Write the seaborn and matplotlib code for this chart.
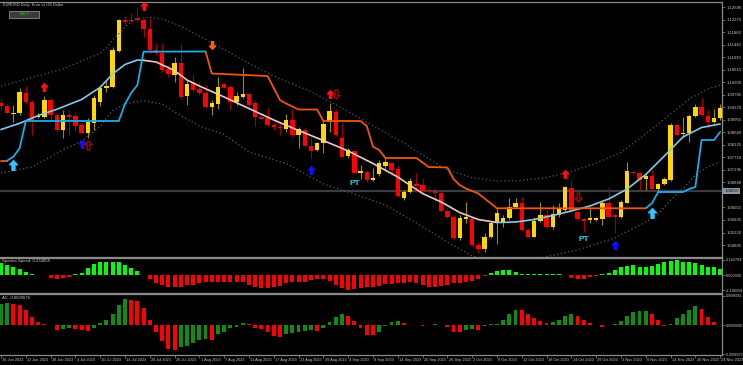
import numpy as np
import matplotlib
matplotlib.use('Agg')
import matplotlib.pyplot as plt
from matplotlib.path import Path
from matplotlib.patches import Rectangle
from matplotlib.transforms import blended_transform_factory
import seaborn as sns

sns.set_style('dark', {'axes.facecolor': 'black', 'figure.facecolor': 'black'})
plt.rcParams['font.family'] = ['Liberation Sans', 'DejaVu Sans']

# EURUSD daily candles, 16 Jun 2023 .. 24 Nov 2023 (bar index 0..116)
opens = [1.09515, 1.09416, 1.09150, 1.09173, 1.09837, 1.09559, 1.09050, 1.09061, 1.09615, 1.09117,
         1.08620, 1.09117, 1.09084, 1.08786, 1.08530, 1.08862, 1.09559, 1.10003, 1.10056, 1.11251,
         1.12269, 1.12269, 1.12325, 1.12269, 1.11960, 1.11274, 1.11184, 1.10633, 1.10444, 1.10852,
         1.09748, 1.10222, 1.09970, 1.09857, 1.09373, 1.09482, 1.10135, 1.10036, 1.09559, 1.09725,
         1.09814, 1.09505, 1.09041, 1.09018, 1.08786, 1.08730, 1.08643, 1.08952, 1.08454, 1.08620,
         1.08089, 1.07957, 1.08199, 1.08896, 1.09227, 1.08364, 1.07758, 1.07933, 1.07203, 1.07237,
         1.06961, 1.07160, 1.07436, 1.07515, 1.07316, 1.06354, 1.06573, 1.06818, 1.06795, 1.06630,
         1.06596, 1.06520, 1.05943, 1.05744, 1.05028, 1.05658, 1.05658, 1.04805, 1.04663, 1.05061,
         1.05525, 1.05525, 1.05691, 1.06056, 1.06208, 1.05303, 1.05080, 1.05612, 1.05800, 1.05392,
         1.05800, 1.05966, 1.06686, 1.05910, 1.05668, 1.05635, 1.05645, 1.05658, 1.06189, 1.05790,
         1.05724, 1.06208, 1.07237, 1.07183, 1.06984, 1.07094, 1.06653, 1.06829, 1.06961, 1.08786,
         1.08477, 1.08510, 1.09084, 1.09373, 1.09084, 1.08896, 1.09008]
highs = [1.09615, 1.09482, 1.09449, 1.10013, 1.10079, 1.09615, 1.09173, 1.09748, 1.09672, 1.09173,
         1.09283, 1.09283, 1.09173, 1.08842, 1.09008, 1.09781, 1.10112, 1.10278, 1.11383, 1.12292,
         1.12434, 1.12490, 1.12710, 1.12325, 1.12325, 1.11495, 1.11495, 1.10776, 1.11051, 1.11495,
         1.10278, 1.10477, 1.10222, 1.10112, 1.09615, 1.10388, 1.10168, 1.10112, 1.09891, 1.10666,
         1.09891, 1.09615, 1.09173, 1.09340, 1.08896, 1.08896, 1.09150, 1.09306, 1.08730, 1.08676,
         1.08344, 1.08232, 1.08952, 1.09505, 1.09306, 1.08842, 1.08013, 1.07957, 1.07459, 1.07293,
         1.07349, 1.07625, 1.07735, 1.07569, 1.07459, 1.06630, 1.07017, 1.07183, 1.07017, 1.06739,
         1.06686, 1.06573, 1.06023, 1.05800, 1.05800, 1.06242, 1.05744, 1.04915, 1.05193, 1.05602,
         1.06023, 1.05800, 1.06354, 1.06354, 1.06387, 1.05359, 1.05744, 1.06242, 1.05966, 1.06132,
         1.06189, 1.06763, 1.06961, 1.05943, 1.05711, 1.06023, 1.05744, 1.06298, 1.06739, 1.05857,
         1.06298, 1.07569, 1.07293, 1.07237, 1.07183, 1.07293, 1.06872, 1.07050, 1.08862, 1.08842,
         1.09061, 1.09150, 1.09482, 1.09672, 1.09283, 1.09306, 1.09482]
lows = [1.09283, 1.09150, 1.08896, 1.09117, 1.09482, 1.08454, 1.09008, 1.09008, 1.08952, 1.08597,
        1.08364, 1.08454, 1.08620, 1.08510, 1.08344, 1.08620, 1.09416, 1.09891, 1.10003, 1.11218,
        1.12103, 1.12169, 1.12213, 1.11695, 1.11164, 1.11108, 1.10554, 1.10388, 1.10222, 1.09638,
        1.09449, 1.09891, 1.09781, 1.09340, 1.09117, 1.09306, 1.10003, 1.09283, 1.09449, 1.09672,
        1.09393, 1.08753, 1.08952, 1.08730, 1.08620, 1.08454, 1.08564, 1.08398, 1.08013, 1.08066,
        1.07681, 1.07933, 1.07847, 1.08564, 1.08421, 1.07715, 1.07681, 1.07183, 1.06984, 1.06905,
        1.06938, 1.07094, 1.07293, 1.07127, 1.06407, 1.06298, 1.06520, 1.06573, 1.06520, 1.06520,
        1.06242, 1.05910, 1.05691, 1.04994, 1.04971, 1.05525, 1.04772, 1.04530, 1.04583, 1.05028,
        1.04838, 1.05412, 1.05635, 1.06023, 1.05280, 1.05061, 1.05061, 1.05579, 1.05359, 1.05326,
        1.05744, 1.05910, 1.05910, 1.05635, 1.05247, 1.05546, 1.05612, 1.05469, 1.05691, 1.05193,
        1.05691, 1.06189, 1.07127, 1.06630, 1.06630, 1.06630, 1.06573, 1.06796, 1.06938, 1.08421,
        1.08398, 1.08232, 1.09061, 1.09084, 1.08676, 1.08842, 1.08952]
closes = [1.09416, 1.09193, 1.09183, 1.09871, 1.09559, 1.08952, 1.09084, 1.09615, 1.09117, 1.08620,
          1.09117, 1.09041, 1.08753, 1.08530, 1.08896, 1.09672, 1.10003, 1.10079, 1.11274, 1.12269,
          1.12193, 1.12252, 1.12269, 1.11960, 1.11274, 1.11184, 1.10610, 1.10477, 1.10852, 1.09725,
          1.10135, 1.09947, 1.09837, 1.09373, 1.09525, 1.10036, 1.10023, 1.09559, 1.09748, 1.09814,
          1.09449, 1.09041, 1.08995, 1.08786, 1.08710, 1.08686, 1.08952, 1.08454, 1.08643, 1.08089,
          1.07933, 1.08199, 1.08809, 1.09250, 1.08454, 1.07735, 1.07957, 1.07203, 1.07270, 1.06961,
          1.07017, 1.07515, 1.07549, 1.07293, 1.06431, 1.06573, 1.06928, 1.06772, 1.06607, 1.06596,
          1.06520, 1.05943, 1.05724, 1.05028, 1.05691, 1.05744, 1.04805, 1.04663, 1.05080, 1.05525,
          1.05857, 1.05691, 1.06076, 1.06208, 1.05303, 1.05080, 1.05612, 1.05800, 1.05392, 1.05833,
          1.05990, 1.06719, 1.05943, 1.05658, 1.05612, 1.05691, 1.05691, 1.06189, 1.05744, 1.05724,
          1.06232, 1.07270, 1.07183, 1.06961, 1.07094, 1.06653, 1.06829, 1.06984, 1.08786, 1.08454,
          1.08530, 1.09084, 1.09393, 1.09117, 1.08896, 1.09018, 1.09340]

# channel middle line, upper / lower dotted bands
mid_x = [0, 3, 6, 9, 13, 16, 18, 20, 22, 23, 25, 28, 30, 32, 36, 40, 44, 48, 52, 56, 60, 64, 68,
         71, 74, 77, 80, 83, 86, 89, 92, 95, 98, 101, 104, 107, 110, 113, 116]
mid_y = [1.08637, 1.08842, 1.09100, 1.09306, 1.09632, 1.10036, 1.10477, 1.10793, 1.10942, 1.10932,
         1.10876, 1.10593, 1.10278, 1.10079, 1.09715, 1.09333, 1.08952, 1.08603, 1.08271, 1.07924,
         1.07509, 1.07061, 1.06513, 1.06232, 1.05883, 1.05651, 1.05552, 1.05568, 1.05651, 1.05784,
         1.05933, 1.06099, 1.06331, 1.06663, 1.07144, 1.07758, 1.08388, 1.08703, 1.08819]
mid_turns = [23, 80]

up_x = [0, 5, 10, 16, 17, 18, 19, 20, 21, 22, 24, 26, 28, 30, 34, 38, 40, 45, 50, 55, 60, 65, 68,
        72, 76, 80, 84, 88, 92, 96, 100, 104, 108, 111, 114, 116]
up_y = [1.10079, 1.10361, 1.10643, 1.11164, 1.11340, 1.11605, 1.11821, 1.12036, 1.12202, 1.12318,
        1.12358, 1.12302, 1.12153, 1.11954, 1.11522, 1.11058, 1.10826, 1.10312, 1.09897, 1.09349,
        1.08769, 1.08189, 1.07791, 1.07293, 1.07044, 1.06928, 1.06945, 1.07044, 1.07243, 1.07525,
        1.07874, 1.08487, 1.09150, 1.09648, 1.09980, 1.10112]

lo_x = [0, 5, 10, 13, 16, 18, 20, 23, 26, 28, 32, 36, 40, 46, 52, 57, 62, 67, 72, 76, 80, 84, 87,
        93, 99, 104, 106, 108, 110, 112, 114, 116]
lo_y = [1.07193, 1.07393, 1.07957, 1.08255, 1.08736, 1.09266, 1.09482, 1.09592, 1.09482, 1.09217,
        1.08753, 1.08471, 1.07891, 1.07509, 1.06829, 1.06497, 1.06132, 1.05535, 1.04905, 1.04440,
        1.04142, 1.04142, 1.04374, 1.04640, 1.05038, 1.05568, 1.05834, 1.06298, 1.06663, 1.07127,
        1.07392, 1.07558]

# trailing stop line (orange above price, blue below)
trail_x = [0, 1, 2, 3, 4, 19, 20, 21, 22, 23, 33, 34, 43, 45, 46, 48, 51, 52, 58, 59, 60, 61, 62,
           67, 69, 72, 73, 74, 75, 77, 80, 104, 105, 106, 110, 111, 112, 113, 115, 116]
trail_y = [1.07602, 1.07602, 1.07735, 1.08013, 1.08919, 1.08919, 1.09482, 1.09847, 1.10112, 1.11218,
           1.11224, 1.10494, 1.10411, 1.09615, 1.09499, 1.09300, 1.09300, 1.08919, 1.08919, 1.08753,
           1.08066, 1.07957, 1.07691, 1.07691, 1.07392, 1.07376, 1.06994, 1.06795, 1.06679, 1.06513,
           1.06023, 1.06023, 1.06189, 1.06563, 1.06563, 1.06663, 1.06729, 1.08288, 1.08288, 1.08553]
trail_flips = [1, 33, 104]

# signal arrows
red_up_x, red_up_y = [7, 23, 53, 91], [1.10045, 1.12733, 1.09814, 1.07160]
blue_up_x, blue_up_y = [13, 50, 99], [1.08156, 1.07293, 1.04805]
cyan_up_x, cyan_up_y = [2, 105], [1.07459, 1.05877]
hollow_up_x, hollow_up_y = [14], [1.08122]
hollow_dn_x, hollow_dn_y = [54, 93], [1.09814, 1.06407]
orange_dn_x, orange_dn_y = [34], [1.11440]
pt_x, pt_y = [57, 94], [1.06829, 1.04994]

level_price = 1.06597
price_ticks = [1.12690, 1.12275, 1.11860, 1.11445, 1.11030, 1.10615, 1.10200, 1.09785, 1.09370,
               1.08955, 1.08540, 1.08125, 1.07710, 1.07295, 1.06880, 1.06050, 1.05635, 1.05220, 1.04805]

# indicator windows
spartan = [1.6, 1.39, 1.07, 0.79, 0.46, 0.14, 0.05, 0.05, -0.37, -0.6, -0.46,
           -0.28, 0.1, 0.32, 0.93, 1.53, 1.81, 1.81, 1.81, 1.81, 1.39,
           1.02, 0.6, 0.05, -0.56, -1.16, -1.39, -1.62, -1.72, -1.62, -1.39,
           -1.39, -1.16, -1.02, -1.02, -1.02, -0.93, -0.93, -1.02, -0.93, -1.39,
           -1.72, -1.85, -1.85, -1.72, -1.48, -1.16, -1.02, -1.02, -0.93, -0.7,
           -0.56, -0.56, -0.83, -1.39, -1.85, -2.09, -1.99, -1.85, -1.72, -1.62,
           -1.55, -1.29, -1.29, -1.16, -1.16, -1.02, -1.07, -1.39, -1.72, -1.62,
           -1.48, -1.39, -1.16, -1.07, -0.93, -0.83, -0.56, -0.09, 0.32, 0.56,
           0.7, 0.7, 0.37, 0.14, 0.14, 0.14, 0.19, 0.19, 0.19, 0.09,
           0.02, -0.37, -0.6, -0.56, -0.32, -0.14, 0.14, 0.32, 0.7, 1.11,
           1.3, 1.39, 1.16, 1.16, 1.3, 1.48, 1.76, 1.95, 2.14, 1.86,
           1.76, 1.62, 1.39, 1.16, 1.16, 0.83]
ac = [0.0068, 0.0072, 0.0070, 0.0067, 0.0051, 0.0027, 0.0010, 0.0005, 0.0001, -0.0016, -0.0014,
      -0.0011, -0.0014, -0.0017, -0.0019, -0.0009, 0.0008, 0.0018, 0.0037, 0.0067, 0.0085,
      0.0084, 0.0078, 0.0056, 0.0016, -0.0023, -0.0054, -0.0079, -0.0082, -0.0073, -0.0068,
      -0.0060, -0.0050, -0.0046, -0.0049, -0.0030, -0.0022, -0.0011, -0.0005, 0.0008, 0.0002,
      -0.0009, -0.0014, -0.0023, -0.0036, -0.0041, -0.0030, -0.0027, -0.0022, -0.0019, -0.0017,
      -0.0019, -0.0011, 0.0010, 0.0027, 0.0035, 0.0031, 0.0013, -0.0011, -0.0033, -0.0034,
      -0.0023, -0.0002, 0.0010, 0.0013, 0.0008, 0.0001, -0.0001, -0.0002, -0.0001, 0.0003,
      0.0001, -0.0006, -0.0022, -0.0023, -0.0016, -0.0014, -0.0015, -0.0003, 0.0003, 0.0005,
      0.0016, 0.0037, 0.0051, 0.0049, 0.0035, 0.0024, 0.0015, 0.0008, 0.0009, 0.0018,
      0.0029, 0.0037, 0.0030, 0.0017, 0.0008, -0.0001, -0.0008, -0.0001, 0.0005, 0.0015,
      0.0031, 0.0043, 0.0045, 0.0048, 0.0038, 0.0018, -0.0002, 0.0002, 0.0022, 0.0038,
      0.0051, 0.0064, 0.0054, 0.0027, 0.0010, 0.0001]

date_labels = ['16 Jun 2023', '22 Jun 2023', '28 Jun 2023', '4 Jul 2023', '10 Jul 2023',
               '14 Jul 2023', '20 Jul 2023', '26 Jul 2023', '1 Aug 2023', '7 Aug 2023',
               '11 Aug 2023', '17 Aug 2023', '23 Aug 2023', '29 Aug 2023', '4 Sep 2023',
               '8 Sep 2023', '14 Sep 2023', '20 Sep 2023', '26 Sep 2023', '2 Oct 2023',
               '6 Oct 2023', '12 Oct 2023', '18 Oct 2023', '24 Oct 2023', '29 Oct 2023',
               '3 Nov 2023', '8 Nov 2023', '14 Nov 2023', '20 Nov 2023', '24 Nov 2023']
date_pos = list(range(0, 117, 4))

FG = '#c8c8c8'
EDGE = '#8a8a8a'
FS = 3.1


def style_panel(a, ylim, fs=FS):
    a.set_facecolor('black')
    a.set_xlim(-0.16, 116.3)
    a.set_ylim(*ylim)
    a.yaxis.tick_right()
    a.tick_params(axis='y', colors=EDGE, labelcolor=FG, labelsize=fs, length=2, width=0.5, pad=1)
    a.tick_params(axis='x', bottom=False, labelbottom=False)
    a.grid(False)
    for side in ['top', 'right', 'bottom']:
        a.spines[side].set_color(EDGE)
        a.spines[side].set_linewidth(0.9)
    a.spines['left'].set_visible(False)


def segments(xs, ys, cuts):
    # split a polyline at the given x values
    bounds = [xs[0]] + cuts + [xs[-1]]
    out = []
    for lo, hi in zip(bounds[:-1], bounds[1:]):
        sx = [x for x in xs if lo <= x <= hi]
        sy = [y for x, y in zip(xs, ys) if lo <= x <= hi]
        out.append((sx, sy))
    return out


fig = plt.figure(figsize=(7.43, 3.65), dpi=100, facecolor='black')
ax = fig.add_axes([0, 0.29726, 0.97174, 0.69726])
ax_sp = fig.add_axes([0, 0.19863, 0.97174, 0.09589])
ax_ac = fig.add_axes([0, 0.0274, 0.97174, 0.16849])

# ---- main price window ----
style_panel(ax, (1.04424, 1.12866))
ax.set_yticks(price_ticks)
ax.set_yticklabels([f'{p:.5f}' for p in price_ticks])

ax.axhline(level_price, color='#383d44', lw=1.6, zorder=1)

x = np.arange(len(opens))
o, h, l, c = map(np.array, (opens, highs, lows, closes))
bull = c >= o
wick_col = np.where(bull, '#9c8a00', '#a00000')
body_col = np.where(bull, '#ffd700', '#ff0000')
ax.vlines(x, l, h, colors=wick_col, lw=0.8, zorder=2)
ax.bar(x, np.maximum(np.abs(c - o), 0.00025), bottom=np.minimum(o, c), width=0.7,
       color=body_col, linewidth=0, zorder=3)

sns.lineplot(x=up_x, y=up_y, ax=ax, color='#3c6070', lw=0.9, linestyle=(0, (1, 2)), zorder=4)
sns.lineplot(x=lo_x, y=lo_y, ax=ax, color='#6e5656', lw=0.9, linestyle=(0, (1, 2)), zorder=4)

mid_cols = ['#86c8ea', '#ecc8c8', '#86c8ea']
for (sx, sy), col in zip(segments(mid_x, mid_y, mid_turns), mid_cols):
    sns.lineplot(x=sx, y=sy, ax=ax, color=col, lw=1.2, zorder=4)

trail_cols = ['#f0540e', '#18aeea', '#f0540e', '#18aeea']
for (sx, sy), col in zip(segments(trail_x, trail_y, trail_flips), trail_cols):
    ax.plot(sx, sy, color=col, lw=1.3, zorder=4)

up_arrow = Path([(0, 1), (-0.8, 0.15), (-0.3, 0.15), (-0.3, -1), (0.3, -1), (0.3, 0.15),
                 (0.8, 0.15), (0, 1)], closed=True)
dn_arrow = Path([(px, -py) for px, py in up_arrow.vertices], closed=True)

ax.plot(red_up_x, red_up_y, ls='none', marker=up_arrow, ms=5.5, color='#ff1010', zorder=5)
ax.plot(blue_up_x, blue_up_y, ls='none', marker=up_arrow, ms=5.5, color='#1010ff', zorder=5)
ax.plot(cyan_up_x, cyan_up_y, ls='none', marker=up_arrow, ms=7, color='#35c4ff', zorder=5)
ax.plot(orange_dn_x, orange_dn_y, ls='none', marker=dn_arrow, ms=5.5, color='#ff5a1a', zorder=5)
ax.plot(hollow_up_x, hollow_up_y, ls='none', marker=up_arrow, ms=6.5, mfc='none',
        mec='#d00000', mew=0.8, zorder=5)
ax.plot(hollow_dn_x, hollow_dn_y, ls='none', marker=dn_arrow, ms=6.5, mfc='none',
        mec='#d00000', mew=0.8, zorder=5)
for px, py in zip(pt_x, pt_y):
    ax.text(px, py, 'PT', color='#22d6ea', fontsize=6, fontweight='bold',
            ha='center', va='center', zorder=5)

trans = blended_transform_factory(ax.transAxes, ax.transData)
ax.text(1.003, level_price, f'{level_price:.5f}', transform=trans, fontsize=FS,
        color='#101010', va='center', ha='left', clip_on=False,
        bbox=dict(boxstyle='square,pad=0.2', fc='#8895a3', ec='none'))

fig.text(0.004, 0.985, 'EURUSD,Daily: Euro vs US Dollar', color=FG, fontsize=2.9, va='center')
fig.patches.append(Rectangle((0.0121, 0.9507), 0.0404, 0.0192, transform=fig.transFigure,
                             fc='#3a3a3a', ec='#8a8a8a', lw=0.6))
fig.text(0.0323, 0.9603, 'HALF', color='#10c010', fontsize=3.2, ha='center', va='center')

# ---- Spartan Speed window ----
style_panel(ax_sp, (-2.434, 2.434), fs=2.8)
sp = np.array(spartan)
ax_sp.bar(x, sp, width=0.65, color=np.where(sp >= 0, '#00ff00', '#ff0000'), linewidth=0)
ax_sp.set_yticks([2.142764, 0.0, -2.100558])
ax_sp.set_yticklabels(['2.142764', '0.000000', '-2.100558'])
fig.text(0.003, 0.2849, 'Spartan Speed: 0.234856', color=FG, fontsize=FS, va='center')

# ---- AC window ----
style_panel(ax_ac, (-0.0099, 0.01043), fs=2.5)
acv = np.array(ac)
ac_up = np.concatenate([[True], acv[1:] > acv[:-1]])
ax_ac.bar(x, acv, width=0.62, color=np.where(ac_up, '#108c10', '#ff0000'), linewidth=0)
ax_ac.set_yticks([0.0096051, 0.0, -0.0096072])
ax_ac.set_yticklabels(['0.0096051', '0.0000000', '-0.0096072'])
fig.text(0.003, 0.1849, 'AC -0.0020676', color=FG, fontsize=FS, va='center')

ax_ac.set_xticks(date_pos)
ax_ac.tick_params(axis='x', bottom=True, length=2, width=0.5, color=EDGE, labelbottom=False)
dtrans = blended_transform_factory(ax_ac.transData, ax_ac.transAxes)
for pos, lab in zip(date_pos, date_labels):
    ax_ac.text(pos + 0.2, -0.085, lab, transform=dtrans, color=FG, fontsize=2.75,
               ha='left', va='center', clip_on=False)

fig.savefig('out.png', dpi=100, facecolor='black')
